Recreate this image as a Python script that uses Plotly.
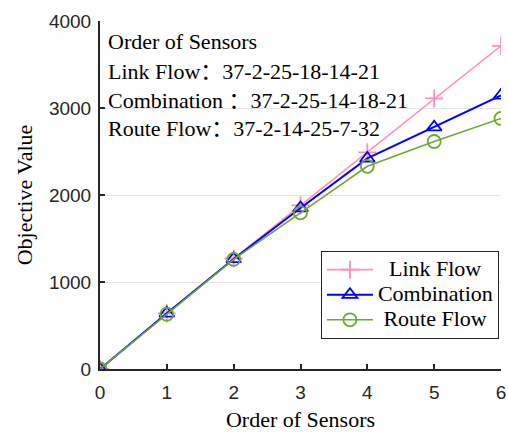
import plotly.graph_objects as go

x = [0, 1, 2, 3, 4, 5, 6]
link_flow = [0, 640, 1270, 1880, 2490, 3110, 3715]
combination = [0, 640, 1265, 1850, 2420, 2780, 3145]
route_flow = [0, 630, 1260, 1795, 2330, 2615, 2880]
names = ["\u00a0\u00a0Link Flow", "Combination", "\u00a0Route Flow"]
colors = ["#ff8fbf", "#0000ff", "#6fa82f"]
symbols = ["cross-thin", "triangle-up-open", "circle-open"]
COLON = '<span style="font-family:\'Noto Sans CJK SC\'">：</span>'
ann_lines = ["Order of Sensors",
             "Link Flow" + COLON + "37-2-25-18-14-21",
             "Combination " + COLON + "37-2-25-14-18-21",
             "Route Flow" + COLON + "37-2-14-25-7-32"]
ann_y = [0.94, 0.862, 0.78, 0.699]

fig = go.Figure()
for ys, n, c, s in zip([link_flow, combination, route_flow], names, colors, symbols):
    fig.add_trace(go.Scatter(x=x, y=ys, name='<span style="font-size:22px">' + n + '</span>',
                             mode="lines+markers",
                             line=dict(color=c, width=1.6 if c != "#0000ff" else 2),
                             marker=dict(symbol=s, size=13, color=c, line=dict(color=c, width=1.8))))

fig.update_layout(
    width=508, height=432, margin=dict(l=100, r=7, t=21, b=63),
    plot_bgcolor="white", paper_bgcolor="white",
    font=dict(family="Liberation Serif", color="black"),
    xaxis=dict(range=[0, 6], tickvals=x, showgrid=False, showline=True, linecolor="#262626", linewidth=2,
               ticks="inside", ticklen=5, tickcolor="#262626", tickwidth=1.5, ticklabelstandoff=5,
               tickfont=dict(family="Liberation Sans", size=19, color="#262626"), automargin=False,
               title=dict(text="Order of Sensors", font=dict(size=22), standoff=14), zeroline=False),
    yaxis=dict(range=[0, 4000], tickvals=[0, 1000, 2000, 3000, 4000], showgrid=True, gridcolor="#e6e6e6",
               showline=True, linecolor="#262626", linewidth=2, ticks="inside", ticklen=5,
               tickcolor="#262626", tickwidth=1.5, ticklabelstandoff=3, automargin=False,
               tickfont=dict(family="Liberation Sans", size=19, color="#262626"),
               title=dict(text="Objective Value", font=dict(size=22), standoff=10), zeroline=False),
    legend=dict(x=0.551, y=0.339, xanchor="left", yanchor="top", bgcolor="white",
                bordercolor="#262626", borderwidth=1, font=dict(size=17), itemwidth=46,
                tracegroupgap=0),
    showlegend=True,
)
for t, yy in zip(ann_lines, ann_y):
    fig.add_annotation(text=t, xref="paper", yref="paper", x=0.015, y=yy,
                       xanchor="left", yanchor="middle", showarrow=False, font=dict(size=22))
fig.write_html("out.html")
